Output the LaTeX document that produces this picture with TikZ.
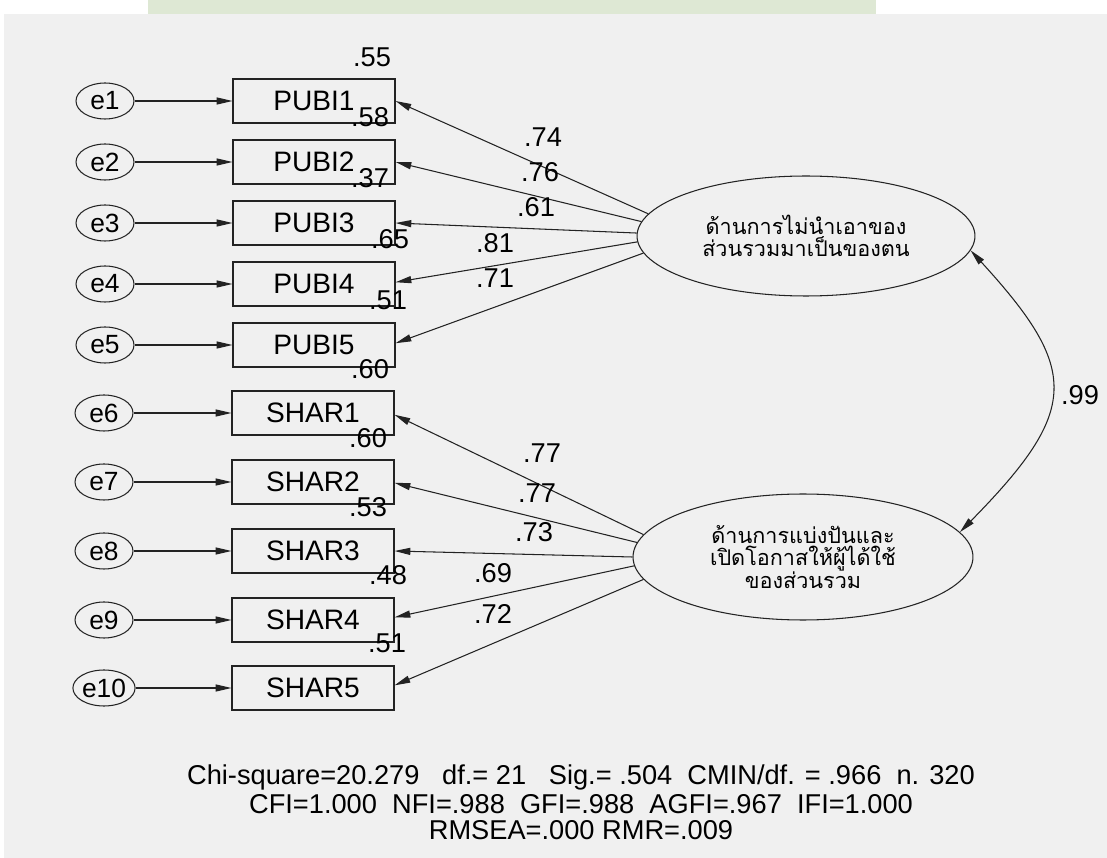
\documentclass[tikz,border=0pt]{standalone}
\usepackage{fontspec}
\setmainfont{Liberation Sans}
\newfontfamily\thaifont[Script=Thai]{Loma}
\usepackage{tikz}
\usetikzlibrary{positioning, arrows.meta, shapes.geometric}

\definecolor{bggray}{RGB}{240,240,240}
\definecolor{lnc}{RGB}{35,35,35}
\definecolor{wmark}{RGB}{222,232,212}

\tikzset{
  obsbox/.style={draw=lnc, fill=bggray, line width=0.6pt, minimum width=3.24cm,
    minimum height=0.88cm, inner sep=0pt, font=\fontsize{16}{19}\selectfont},
  errnode/.style={ellipse, draw=lnc, line width=0.6pt, minimum width=1.16cm,
    minimum height=0.72cm, inner sep=0pt, font=\fontsize{15}{18}\selectfont},
  latent/.style={ellipse, draw=lnc, line width=0.6pt, fill=bggray, align=center,
    inner sep=0pt, font=\thaifont\fontsize{12.3}{12.8}\selectfont},
  coef/.style={inner sep=0pt, font=\fontsize{15.5}{18}\selectfont},
  fitline/.style={inner sep=0pt, font=\fontsize{15.5}{18}\selectfont}
}

\begin{document}
\begin{tikzpicture}[x=0.02cm, y=-0.02cm, line width=0.6pt, draw=lnc,
    >={Triangle[length=9pt,width=4pt]}]
        \useasboundingbox (0,0) rectangle (1107,858);
        \fill[bggray] (4,14) rectangle (1107,858);
        \fill[wmark] (148,0) rectangle (876,14);

        % indicators
        \node[obsbox] (p1) at (314,101) {PUBI1};
        \node[obsbox] (p2) at (314,162) {PUBI2};
        \node[obsbox] (p3) at (314,223) {PUBI3};
        \node[obsbox] (p4) at (314,284) {PUBI4};
        \node[obsbox] (p5) at (314,345) {PUBI5};
        \node[obsbox] (s1) at (313,413) {SHAR1};
        \node[obsbox] (s2) at (313,482) {SHAR2};
        \node[obsbox] (s3) at (313,551) {SHAR3};
        \node[obsbox] (s4) at (313,620) {SHAR4};
        \node[obsbox] (s5) at (313,688) {SHAR5};

        % errors
        \node[errnode] (e1)  at (105,101) {e1};
        \node[errnode] (e2)  at (105,162) {e2};
        \node[errnode] (e3)  at (105,223) {e3};
        \node[errnode] (e4)  at (105,284) {e4};
        \node[errnode] (e5)  at (105,345) {e5};
        \node[errnode] (e6)  at (104,413) {e6};
        \node[errnode] (e7)  at (104,482) {e7};
        \node[errnode] (e8)  at (104,551) {e8};
        \node[errnode] (e9)  at (104,620) {e9};
        \node[errnode] (e10) at (104,688) {e10};

        % factors
        \node[latent, minimum width=6.76cm, minimum height=2.4cm] (f1) at (806,236)
            {ด้านการไม่นำเอาของ\\ส่วนรวมมาเป็นของตน};
        \node[latent, minimum width=6.8cm, minimum height=2.52cm] (f2) at (803,557)
            {ด้านการแบ่งปันและ\\เปิดโอกาสให้ผู้ได้ใช้\\ของส่วนรวม};

        \path[->] (e1)  edge (p1)
                  (e2)  edge (p2)
                  (e3)  edge (p3)
                  (e4)  edge (p4)
                  (e5)  edge (p5)
                  (e6)  edge (s1)
                  (e7)  edge (s2)
                  (e8)  edge (s3)
                  (e9)  edge (s4)
                  (e10) edge (s5);

        \path[->] (f1.172.3) edge (p1.east)
                  (f1.175.6) edge (p2.east)
                  (f1.179)   edge (p3.east)
                  (f1.182.8) edge ([yshift=1pt]p4.east)
                  (f1.186.3) edge ([yshift=1pt]p5.east)
                  (f2.172.4) edge ([yshift=-1pt]s1.east)
                  (f2.175.9) edge ([yshift=-0.5pt]s2.east)
                  (f2.180)   edge (s3.east)
                  (f2.183.7) edge ([yshift=1.5pt]s4.east)
                  (f2.188)   edge ([yshift=1.5pt]s5.east);

        % covariance
        \draw[<->] (f1.-5) .. controls (1080,370) and (1080,410) .. (f2.9);
        \node[coef] (r12) at (1080,395) {.99};

        % loadings
        \node[coef] (l1) at (543,137) {.74};
        \node[coef] (l2) at (540,172) {.76};
        \node[coef] (l3) at (536,207) {.61};
        \node[coef] (l4) at (495,243) {.81};
        \node[coef] (l5) at (495,278) {.71};
        \node[coef] (l6) at (542,453) {.77};
        \node[coef] (l7) at (537,493) {.77};
        \node[coef] (l8) at (534,532) {.73};
        \node[coef] (l9) at (493,573) {.69};
        \node[coef] (l10) at (493,614) {.72};

        % squared multiple correlations
        \node[coef] (r1) at (372,57) {.55};
        \node[coef] (r2) at (370,117) {.58};
        \node[coef] (r3) at (370,178) {.37};
        \node[coef] (r4) at (390,239) {.65};
        \node[coef] (r5) at (388,300) {.51};
        \node[coef] (r6) at (370,369) {.60};
        \node[coef] (r7) at (368,438) {.60};
        \node[coef] (r8) at (368,507) {.53};
        \node[coef] (r9) at (388,575) {.48};
        \node[coef] (r10) at (387,643) {.51};

        % fit indices
        \node[fitline] (fit1) at (581,777)
            {Chi-square=20.279\ \ \ df.= 21\ \ \ Sig.= .504\ \ CMIN/df. = .966\ \ n. 320};
        \node[fitline] (fit2) at (581,804)
            {CFI=1.000\ \ NFI=.988\ \ GFI=.988\ \ AGFI=.967\ \ IFI=1.000};
        \node[fitline] (fit3) at (581,830) {RMSEA=.000 RMR=.009};
\end{tikzpicture}
\end{document}
